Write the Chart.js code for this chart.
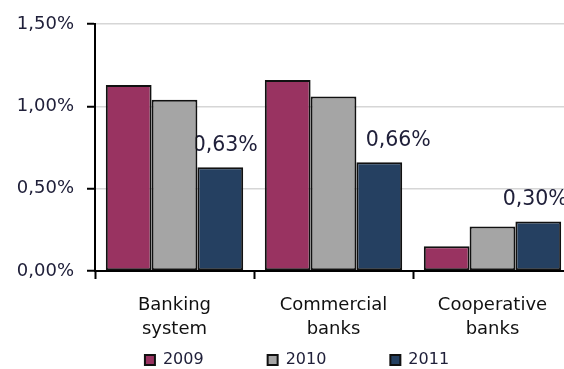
<!DOCTYPE html>
<html><head><meta charset="utf-8">
<script src="https://cdn.jsdelivr.net/npm/chart.js@4/dist/chart.umd.min.js"></script>
<style>
html,body{margin:0;padding:0;overflow:hidden;background:#fff;width:564px;height:369px}
#wrap{position:absolute;left:0;top:0;width:596px;height:378px}
</style>
</head><body><div id="wrap"><canvas id="c"></canvas></div>
<script>
const categories = [['Banking','system'],['Commercial','banks'],['Cooperative','banks']];
const seriesNames = ['2009','2010','2011'];
const values2009 = [1.13, 1.16, 0.15];
const values2010 = [1.04, 1.06, 0.27];
const values2011 = [0.63, 0.66, 0.30];
const yTicks = [0, 0.5, 1.0, 1.5];
const labelledSeries = 2;

const colors = ['#993361', '#a5a5a5', '#254061'];
const labelShiftX = [5, 19, -3];
const fmt = v => v.toFixed(2).replace('.', ',') + '%';

Chart.defaults.font.family = "'DejaVu Sans', Verdana, sans-serif";
Chart.defaults.color = '#20203a';

const valueLabels = {
  id: 'valueLabels',
  beforeDatasetsDraw(chart) {
    const ctx = chart.ctx;
    const meta = chart.getDatasetMeta(labelledSeries);
    const data = chart.data.datasets[labelledSeries].data;
    ctx.save();
    ctx.font = "20.5px 'DejaVu Sans'";
    ctx.fillStyle = '#20203a';
    ctx.textAlign = 'center';
    ctx.textBaseline = 'middle';
    meta.data.forEach((bar, i) => {
      ctx.fillText(fmt(data[i]), bar.x + labelShiftX[i], bar.y - 22);
    });
    ctx.restore();
  }
};

// let the axis labels extend beyond the slim axis boxes (legend sits under them)
const extendAxisBoxes = {
  id: 'extendAxisBoxes',
  afterLayout(chart) {
    chart.scales.x.bottom = chart.height;
    chart.scales.y.left = 0;
  }
};

new Chart(document.getElementById('c'), {
  type: 'bar',
  data: {
    labels: categories,
    datasets: [values2009, values2010, values2011].map((d, i) => ({
      label: seriesNames[i],
      data: d,
      backgroundColor: colors[i],
      borderColor: '#111',
      borderWidth: 2,
      borderSkipped: false,
      categoryPercentage: 0.864,
      barPercentage: 1.0
    }))
  },
  options: {
    responsive: true,
    maintainAspectRatio: false,
    animation: false,
    layout: { padding: { top: 24, right: 24, left: 22, bottom: 0 } },
    plugins: {
      tooltip: { enabled: false },
      legend: {
        position: 'bottom',
        labels: {
          boxWidth: 10, boxHeight: 10, padding: 64,
          font: { size: 16 }, color: '#20203a'
        }
      }
    },
    scales: {
      x: {
        afterFit: s => { s.height = 17; },
        grid: { display: true, drawOnChartArea: false, drawTicks: true, tickLength: 8, tickColor: '#000', tickWidth: 2, offset: true },
        border: { color: '#000', width: 2 },
        ticks: { font: { size: 18, lineHeight: 1.33 }, padding: 14, color: '#111', maxRotation: 0, autoSkip: false }
      },
      y: {
        min: 0, max: 1.5,
        afterFit: s => { s.width = 73; },
        afterBuildTicks: s => { s.ticks = yTicks.map(v => ({ value: v })); },
        grid: { color: '#d6d6d6', lineWidth: 1.5, tickLength: 8, tickColor: '#000', tickWidth: 2 },
        border: { color: '#000', width: 2 },
        ticks: { font: { size: 18 }, padding: 13, callback: v => fmt(v) }
      }
    }
  },
  plugins: [valueLabels, extendAxisBoxes]
});
</script>
</body></html>
